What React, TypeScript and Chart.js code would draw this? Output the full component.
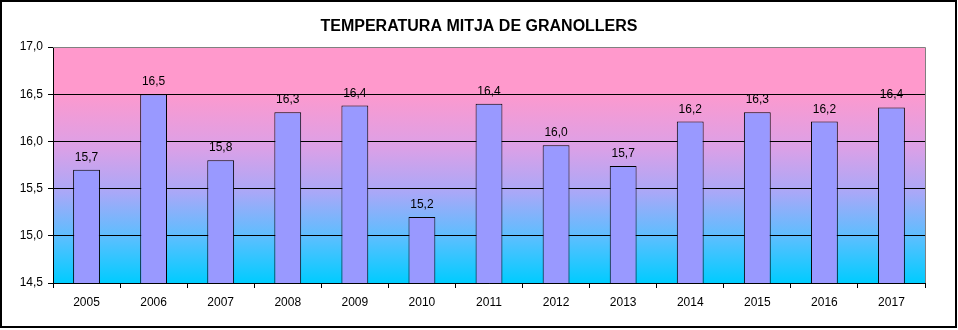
import React, { useEffect, useRef } from "react";
import { Chart, registerables } from "chart.js";

Chart.register(...registerables);

const TITLE = "TEMPERATURA MITJA DE GRANOLLERS";
const years = ["2005", "2006", "2007", "2008", "2009", "2010", "2011", "2012", "2013", "2014", "2015", "2016", "2017"];
const temps = [15.7, 16.5, 15.8, 16.31, 16.38, 15.2, 16.4, 15.96, 15.74, 16.21, 16.31, 16.21, 16.36];
const Y_MIN = 14.5;
const Y_MAX = 17.0;
const Y_STEP = 0.5;

const fmt = (v: number) => v.toFixed(1).replace(".", ",");

export default function App() {
  const ref = useRef<HTMLCanvasElement | null>(null);

  useEffect(() => {
    if (!ref.current) return;
    const framePlugin = {
      id: "frame",
      beforeDraw(chart: any) {
        const { ctx, chartArea: a, width, height } = chart;
        ctx.save();
        ctx.fillStyle = "#ffffff";
        ctx.fillRect(0, 0, width, height);
        const g = ctx.createLinearGradient(0, a.top, 0, a.bottom);
        g.addColorStop(0, "#FF99CC");
        g.addColorStop(0.18, "#FF99CC");
        g.addColorStop(0.42, "#DDA0E6");
        g.addColorStop(0.62, "#A8A8F8");
        g.addColorStop(0.82, "#55C0FF");
        g.addColorStop(1, "#00CCFF");
        ctx.fillStyle = g;
        ctx.fillRect(a.left, a.top, a.right - a.left, a.bottom - a.top);
        ctx.restore();
      },
      afterDraw(chart: any) {
        const { ctx, chartArea: a, width } = chart;
        ctx.save();
        ctx.strokeStyle = "#808080";
        ctx.lineWidth = 1;
        ctx.beginPath();
        ctx.moveTo(a.left, a.top + 0.5);
        ctx.lineTo(a.right + 0.5, a.top + 0.5);
        ctx.lineTo(a.right + 0.5, a.bottom);
        ctx.stroke();
        ctx.fillStyle = "#000";
        ctx.font = "bold 16px Arial, 'Liberation Sans', sans-serif";
        ctx.textAlign = "center";
        ctx.textBaseline = "alphabetic";
        ctx.fillText(TITLE, width / 2, 31);
        ctx.font = "12px Arial, 'Liberation Sans', sans-serif";
        const meta = chart.getDatasetMeta(0);
        meta.data.forEach((bar: any, i: number) => {
          ctx.fillText(fmt(temps[i]), bar.x, bar.y - 9);
        });
        ctx.strokeStyle = "#000";
        ctx.lineWidth = 2;
        ctx.strokeRect(1, 1, 955, 326);
        ctx.restore();
      },
    };

    const chart = new Chart(ref.current, {
      type: "bar",
      data: {
        labels: years,
        datasets: [
          {
            data: temps,
            backgroundColor: "#9999FF",
            borderColor: "#000000",
            borderWidth: 1,
            categoryPercentage: 0.4,
            barPercentage: 1,
          },
        ],
      },
      options: {
        responsive: false,
        animation: false,
        devicePixelRatio: 1,
        layout: { padding: { left: 0, top: 47, right: 33, bottom: 0 } },
        plugins: {
          legend: { display: false },
          tooltip: { enabled: false },
          title: { display: false },
        },
        scales: {
          x: {
            offset: true,
            grid: {
              offset: true,
              drawOnChartArea: false,
              drawTicks: true,
              tickLength: 5,
              tickColor: "#000",
            },
            border: { color: "#000", width: 1 },
            ticks: {
              color: "#000",
              font: { family: "Arial, 'Liberation Sans', sans-serif", size: 12 },
              padding: 7,
              maxRotation: 0,
              autoSkip: false,
            },
            afterFit(scale: any) {
              scale.height = 47;
            },
          },
          y: {
            min: Y_MIN,
            max: Y_MAX,
            ticks: {
              stepSize: Y_STEP,
              color: "#000",
              font: { family: "Arial, 'Liberation Sans', sans-serif", size: 12 },
              padding: 5,
              callback: (v: any) => fmt(Number(v)),
            },
            grid: {
              color: (c: any) => (c.tick && Math.abs(c.tick.value - Y_MAX) < 1e-6 ? "#808080" : "#000000"),
              tickColor: "#000",
              tickLength: 5,
              lineWidth: 1,
            },
            border: { color: "#000", width: 1 },
            afterFit(scale: any) {
              scale.width = 53;
            },
          },
        },
      },
      plugins: [framePlugin],
    });
    return () => chart.destroy();
  }, []);

  return (
    <div style={{ position: "absolute", left: 0, top: 0, width: 958, height: 330 }}>
      <canvas ref={ref} width={958} height={330} style={{ display: "block", width: 958, height: 330 }} />
    </div>
  );
}
